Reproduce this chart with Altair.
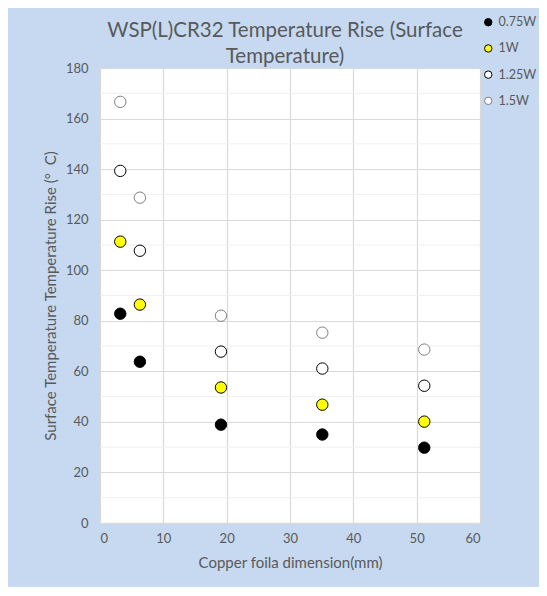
import altair as alt
import pandas as pd

xs = [3.2, 6.3, 19.1, 35.1, 51.2]
series = ["0.75W", "1W", "1.25W", "1.5W"]
p075 = [82.8, 63.8, 38.9, 35.0, 29.8]
p100 = [111.3, 86.4, 53.6, 46.8, 40.1]
p125 = [139.3, 107.7, 67.8, 61.1, 54.3]
p150 = [166.6, 128.7, 82.0, 75.3, 68.6]
minor_ticks = [10, 30, 50, 70, 90, 110, 130, 150, 170]

rows = []
for name, vals in zip(series, [p075, p100, p125, p150]):
    for x, y in zip(xs, vals):
        rows.append({"x": x, "y": y, "s": name})
df = pd.DataFrame(rows)
minor = pd.DataFrame({"y": minor_ticks})

FONT = "Lato"
TXT = "#595959"

minor_rules = alt.Chart(minor).mark_rule(color="#f0f0f0", strokeWidth=1).encode(
    y=alt.Y("y:Q", scale=alt.Scale(domain=[0, 180]))
)

points = alt.Chart(df).mark_point(filled=False, size=130, strokeWidth=1, opacity=1).encode(
    x=alt.X("x:Q", title="Copper foila dimension(mm)",
            scale=alt.Scale(domain=[0, 60], nice=False),
            axis=alt.Axis(values=[0, 10, 20, 30, 40, 50, 60], grid=True, ticks=False,
                          domain=True, domainColor="#d9d9d9", domainWidth=1.5,
                          gridColor="#d9d9d9", gridWidth=1.2,
                          labelFont=FONT, labelFontSize=13, labelColor=TXT, labelPadding=9,
                          titleFont=FONT, titleFontSize=15, titleColor=TXT,
                          titleFontWeight="normal", titlePadding=10)),
    y=alt.Y("y:Q", title="Surface Temperature Temperature Rise (°\u00a0\u00a0C)",
            scale=alt.Scale(domain=[0, 180], nice=False),
            axis=alt.Axis(values=[0, 20, 40, 60, 80, 100, 120, 140, 160, 180], grid=True,
                          ticks=False, domain=False,
                          gridColor="#d9d9d9", gridWidth=1.2,
                          labelFont=FONT, labelFontSize=13, labelColor=TXT, labelPadding=12,
                          titleFont=FONT, titleFontSize=15, titleColor=TXT,
                          titleFontWeight="normal", titlePadding=7)),
    fill=alt.Fill("s:N", scale=alt.Scale(domain=series,
                                          range=["#000000", "#ffff00", "#ffffff", "#ffffff"]),
                  legend=alt.Legend(title=None, orient="none", legendX=382, legendY=-52,
                                    symbolType="circle", symbolSize=55, symbolStrokeWidth=1,
                                    labelFont=FONT, labelFontSize=12.5, labelColor=TXT,
                                    rowPadding=13.2, labelOffset=4)),
    stroke=alt.Stroke("s:N", scale=alt.Scale(domain=series,
                                              range=["#000000", "#000000", "#000000", "#7f7f7f"]),
                      legend=None),
)

chart = alt.layer(minor_rules, points).properties(
    width=380, height=455,
    autosize=alt.AutoSizeParams(type="none"),
    padding={"left": 92, "top": 60, "right": 59, "bottom": 64},
    background="#c6d9f1",
    title=alt.TitleParams(text=["WSP(L)CR32 Temperature Rise (Surface", "Temperature)"],
                          font=FONT, fontSize=20.5, fontWeight="normal", color=TXT,
                          anchor="middle", frame="group", offset=2, dx=-5, dy=53,
                          lineHeight=26),
).configure_view(fill="#ffffff", stroke=None)

chart.save("out.html", embed_options={"renderer": "svg", "actions": False})
